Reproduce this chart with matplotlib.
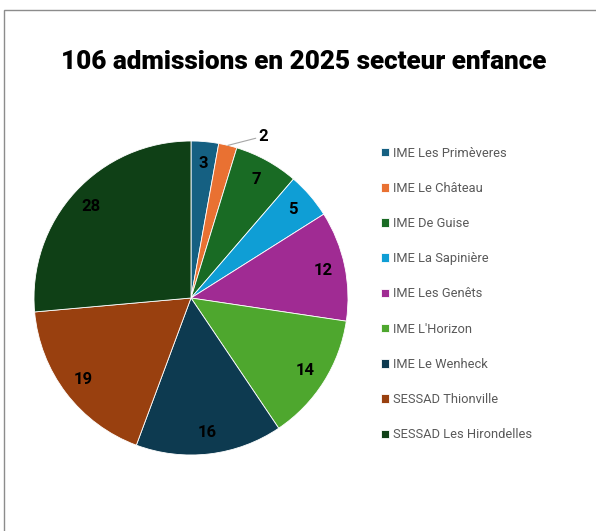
import numpy as np
import matplotlib.pyplot as plt
from matplotlib.patches import Rectangle

# data
labels = ["IME Les Primèveres", "IME Le Château", "IME De Guise", "IME La Sapinière",
          "IME Les Genêts", "IME L'Horizon", "IME Le Wenheck", "SESSAD Thionville",
          "SESSAD Les Hirondelles"]
values = [3, 2, 7, 5, 12, 14, 16, 19, 28]
colors = ["#156082", "#E97132", "#196B24", "#0F9ED5", "#A02B93", "#4EA72E",
          "#0D3A50", "#99400F", "#0F4016"]
title = "106 admissions en 2025 secteur enfance"

plt.rcParams['font.family'] = ['Roboto', 'DejaVu Sans']

fig = plt.figure(figsize=(5.96, 5.31), dpi=100)

# chart frame
fig.patches.append(Rectangle((4 / 596, -0.05), 1.0, 1 - 10 / 531 + 0.05,
                             transform=fig.transFigure, fill=False,
                             edgecolor="#8c8c8c", linewidth=1.0))

fig.text(304 / 596, 1 - 62 / 531, title, ha="center", va="center",
         fontsize=18.8, fontweight="heavy", color="black")

# pie area
cx, cy, r = 191, 298, 157
ax = fig.add_axes([(cx - r) / 596, 1 - (cy + r) / 531, 2 * r / 596, 2 * r / 531])
wedges, _ = ax.pie(values, colors=colors, startangle=90, counterclock=False,
                   wedgeprops=dict(edgecolor="white", linewidth=0.6))
ax.set_xlim(-1, 1)
ax.set_ylim(-1, 1)

# data labels
for w, v in zip(wedges, values):
    ang = np.deg2rad((w.theta1 + w.theta2) / 2)
    if v == 2:
        ax.annotate(str(v), xy=(1.0 * np.cos(ang), 1.0 * np.sin(ang)),
                    xytext=(0.43, 1.03), ha="left", va="center",
                    fontsize=12, fontweight="bold", color="black",
                    arrowprops=dict(arrowstyle="-", color="#a6a6a6", lw=0.8,
                                    shrinkA=0, shrinkB=0),
                    annotation_clip=False)
    else:
        d = 0.86
        ax.text(d * np.cos(ang), d * np.sin(ang), str(v), ha="center", va="center",
                fontsize=12, fontweight="bold", color="black")

# legend
fig.legend(wedges, labels, loc="upper left",
           bbox_to_anchor=(369 / 596, 1 - 135 / 531), frameon=False,
           fontsize=9.3, labelcolor="#595959", handlelength=0.65,
           handleheight=0.65, handletextpad=0.3, labelspacing=1.72)

fig.savefig("out.png", dpi=100)
